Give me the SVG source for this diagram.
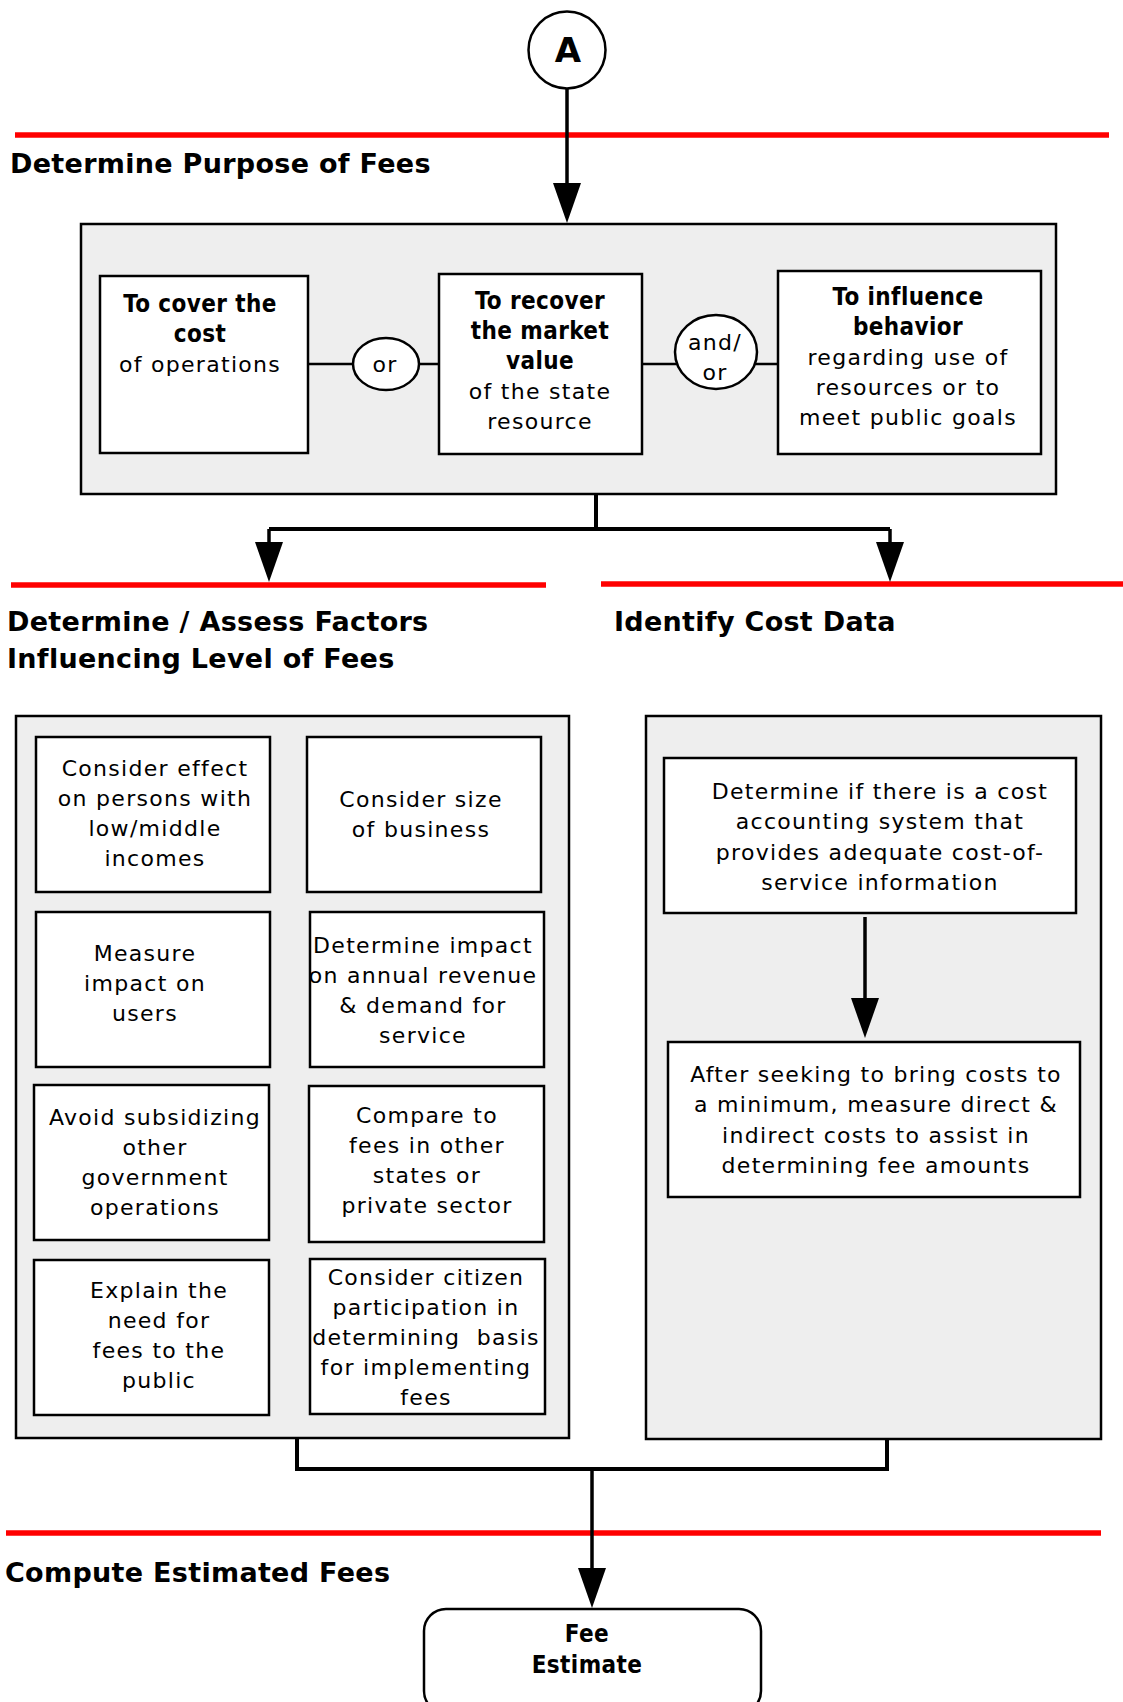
<svg xmlns="http://www.w3.org/2000/svg" width="1123" height="1702" viewBox="0 0 1123 1702">
<style>
.bg{fill:#ffffff}
.red{stroke:#ff0000;stroke-width:5.5;fill:none}
.panel{fill:#eeeeee;stroke:#000;stroke-width:2.5}
.box{fill:#ffffff;stroke:#000;stroke-width:2.5}
.conn{stroke:#000;fill:none;stroke-width:4}
.arr{stroke:#000;fill:none;stroke-width:3.5}
.h{font-family:"DejaVu Sans",Verdana,sans-serif;font-weight:bold;font-size:27px;letter-spacing:0.3px;fill:#000}
.t{font-family:"DejaVu Sans",Verdana,sans-serif;font-size:22px;letter-spacing:1.3px;fill:#000;text-anchor:middle}
.b{font-family:"DejaVu Sans Condensed","DejaVu Sans",sans-serif;font-stretch:condensed;font-weight:bold;font-size:24px;letter-spacing:0.4px;fill:#000;text-anchor:middle}
</style>
<defs>
<marker id="ah" viewBox="0 0 40 28" markerWidth="40" markerHeight="28" markerUnits="userSpaceOnUse" refX="10" refY="14" orient="auto">
<path d="M0,0 L40,14 L0,28 Z" fill="#000"/>
</marker>
</defs>
<rect class="bg" x="0" y="0" width="1123" height="1702"/>
<g id="lanes">
<line class="red" x1="15" y1="135" x2="1109" y2="135"/>
<line class="red" x1="11" y1="585" x2="546" y2="585"/>
<line class="red" x1="601" y1="584" x2="1123" y2="584"/>
<line class="red" x1="6" y1="1533" x2="1101" y2="1533"/>
<text class="h" x="10" y="173">Determine Purpose of Fees</text>
<text class="h" x="7" y="631">Determine / Assess Factors</text>
<text class="h" x="7" y="668">Influencing Level of Fees</text>
<text class="h" x="614" y="631">Identify Cost Data</text>
<text class="h" x="5" y="1582">Compute Estimated Fees</text>
</g>
<g id="panels">
<rect id="panel-purpose" class="panel" x="81" y="224" width="975" height="270"/>
<rect id="panel-factors" class="panel" x="16" y="716" width="553" height="722"/>
<rect id="panel-cost" class="panel" x="646" y="716" width="455" height="723"/>
</g>
<g id="connectors">
<path class="arr" d="M567,89 V193" marker-end="url(#ah)"/>
<path class="conn" d="M596,494 V529 M269,529 H890"/>
<path class="arr" d="M269,529 V552" marker-end="url(#ah)"/>
<path class="arr" d="M890,529 V552" marker-end="url(#ah)"/>
<path class="arr" d="M308,364 H778" style="stroke-width:2.5"/>
<path class="arr" d="M865,917 V1008" marker-end="url(#ah)"/>
<path class="conn" d="M297,1439 V1469 H887 V1439"/>
<path class="arr" d="M592,1469 V1578" marker-end="url(#ah)"/>
</g>
<g id="node-A">
<circle class="box" cx="567" cy="50" r="38.5"/>
<text class="b" x="568" y="62" style="font-size:34px;letter-spacing:0;font-stretch:normal;font-family:'DejaVu Sans',sans-serif">A</text>
</g>
<g id="node-cover">
<rect class="box" x="100" y="276" width="208" height="177"/>
<text class="b" x="200" y="312">To cover the</text>
<text class="b" x="200" y="342">cost</text>
<text class="t" x="200" y="372">of operations</text>
</g>
<g id="node-or">
<ellipse class="box" cx="386" cy="364" rx="33" ry="26"/>
<text class="t" x="385" y="372">or</text>
</g>
<g id="node-recover">
<rect class="box" x="439" y="274" width="203" height="180"/>
<text class="b" x="540" y="309">To recover</text>
<text class="b" x="540" y="339">the market</text>
<text class="b" x="540" y="369">value</text>
<text class="t" x="540" y="399">of the state</text>
<text class="t" x="540" y="429">resource</text>
</g>
<g id="node-andor">
<ellipse class="box" cx="716" cy="352" rx="41" ry="37"/>
<text class="t" x="715" y="350">and/</text>
<text class="t" x="715" y="380">or</text>
</g>
<g id="node-influence">
<rect class="box" x="778" y="271" width="263" height="183"/>
<text class="b" x="908" y="305">To influence</text>
<text class="b" x="908" y="335">behavior</text>
<text class="t" x="908" y="365">regarding use of</text>
<text class="t" x="908" y="395">resources or to</text>
<text class="t" x="908" y="425">meet public goals</text>
</g>
<g id="node-effect">
<rect class="box" x="36" y="737" width="234" height="155"/>
<text class="t" x="155" y="776">Consider effect</text>
<text class="t" x="155" y="806">on persons with</text>
<text class="t" x="155" y="836">low/middle</text>
<text class="t" x="155" y="866">incomes</text>
</g>
<g id="node-size">
<rect class="box" x="307" y="737" width="234" height="155"/>
<text class="t" x="421" y="807">Consider size</text>
<text class="t" x="421" y="837">of business</text>
</g>
<g id="node-measure">
<rect class="box" x="36" y="912" width="234" height="155"/>
<text class="t" x="145" y="961">Measure</text>
<text class="t" x="145" y="991">impact on</text>
<text class="t" x="145" y="1021">users</text>
</g>
<g id="node-revenue">
<rect class="box" x="310" y="912" width="234" height="155"/>
<text class="t" x="423" y="953">Determine impact</text>
<text class="t" x="423" y="983">on annual revenue</text>
<text class="t" x="423" y="1013">&amp; demand for</text>
<text class="t" x="423" y="1043">service</text>
</g>
<g id="node-avoid">
<rect class="box" x="34" y="1085" width="235" height="155"/>
<text class="t" x="155" y="1125">Avoid subsidizing</text>
<text class="t" x="155" y="1155">other</text>
<text class="t" x="155" y="1185">government</text>
<text class="t" x="155" y="1215">operations</text>
</g>
<g id="node-compare">
<rect class="box" x="309" y="1086" width="235" height="156"/>
<text class="t" x="427" y="1123">Compare to</text>
<text class="t" x="427" y="1153">fees in other</text>
<text class="t" x="427" y="1183">states or</text>
<text class="t" x="427" y="1213">private sector</text>
</g>
<g id="node-explain">
<rect class="box" x="34" y="1260" width="235" height="155"/>
<text class="t" x="159" y="1298">Explain the</text>
<text class="t" x="159" y="1328">need for</text>
<text class="t" x="159" y="1358">fees to the</text>
<text class="t" x="159" y="1388">public</text>
</g>
<g id="node-citizen">
<rect class="box" x="310" y="1259" width="235" height="155"/>
<text class="t" x="426" y="1285">Consider citizen</text>
<text class="t" x="426" y="1315">participation in</text>
<text class="t" x="426" y="1345" xml:space="preserve">determining  basis</text>
<text class="t" x="426" y="1375">for implementing</text>
<text class="t" x="426" y="1405">fees</text>
</g>
<g id="node-costsystem">
<rect class="box" x="664" y="758" width="412" height="155"/>
<text class="t" x="880" y="799">Determine if there is a cost</text>
<text class="t" x="880" y="829">accounting system that</text>
<text class="t" x="880" y="860">provides adequate cost-of-</text>
<text class="t" x="880" y="890">service information</text>
</g>
<g id="node-measurecosts">
<rect class="box" x="668" y="1042" width="412" height="155"/>
<text class="t" x="876" y="1082">After seeking to bring costs to</text>
<text class="t" x="876" y="1112">a minimum, measure direct &amp;</text>
<text class="t" x="876" y="1143">indirect costs to assist in</text>
<text class="t" x="876" y="1173">determining fee amounts</text>
</g>
<g id="node-fee">
<rect class="box" x="424" y="1609" width="337" height="104" rx="22" ry="22"/>
<text class="b" x="587" y="1642">Fee</text>
<text class="b" x="587" y="1673">Estimate</text>
</g>
</svg>
